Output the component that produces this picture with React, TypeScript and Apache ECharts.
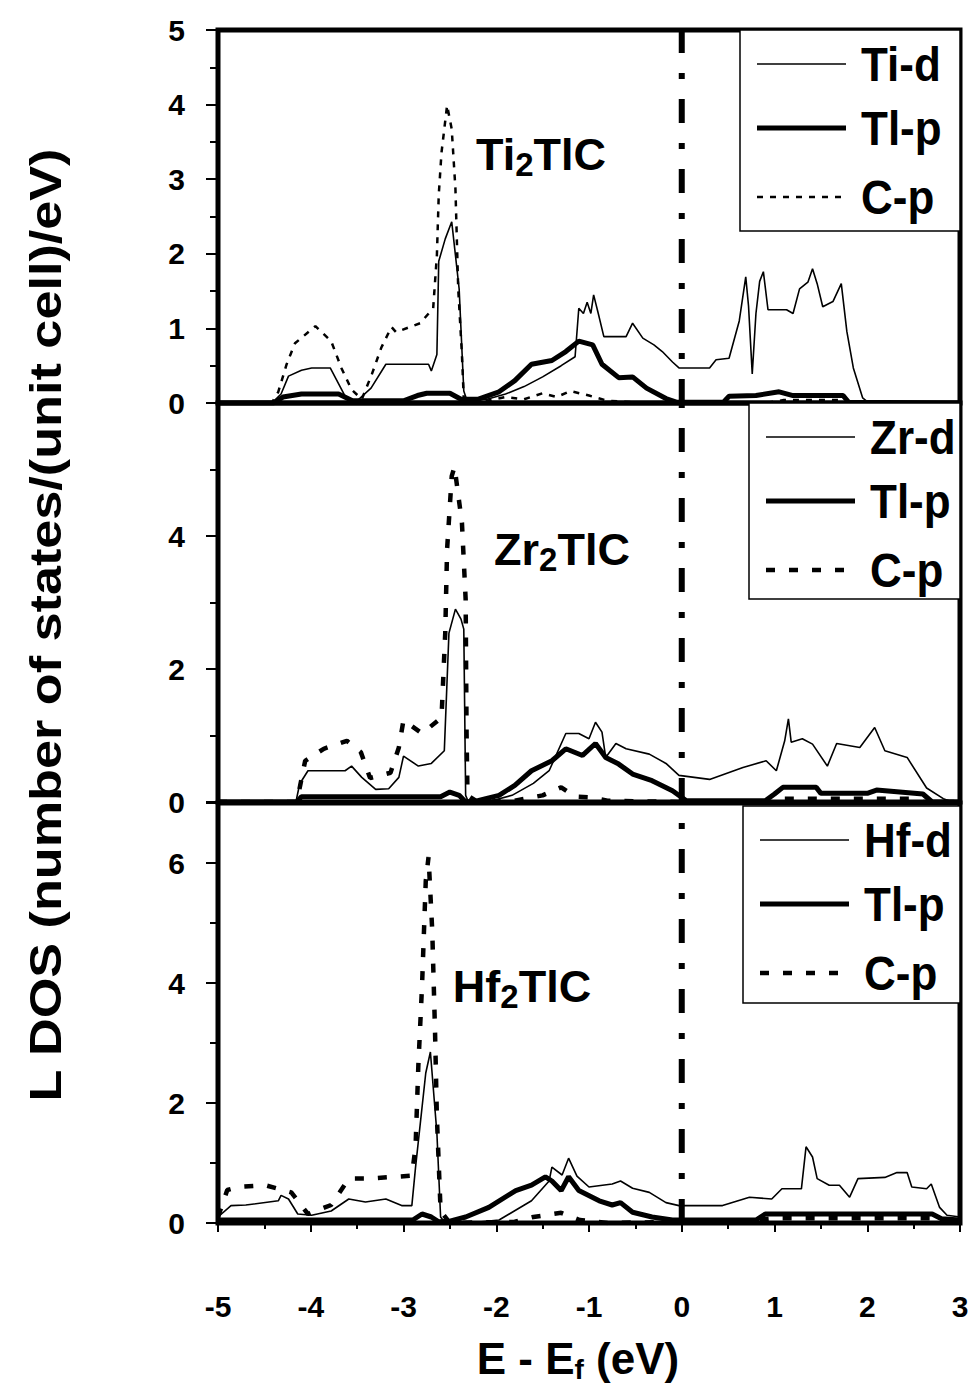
import React, { useEffect, useRef } from "react";
import * as echarts from "echarts";

// Energy window (eV) and the Fermi level marker
const E_MIN = -5;
const E_MAX = 3;
const FERMI = 0;

// Ti2TlC partial DOS: [E - Ef, states/eV]
const ti2_d: [number, number][] = [
  [-5, 0], [-4.42, 0], [-4.32, 0.12], [-4.24, 0.36], [-4.1, 0.44], [-3.99, 0.47], [-3.79, 0.47],
  [-3.62, 0.07], [-3.5, 0.03], [-3.35, 0.2], [-3.19, 0.52], [-2.73, 0.52], [-2.7, 0.43], [-2.64, 0.65],
  [-2.62, 1.9], [-2.55, 2.2], [-2.48, 2.43], [-2.4, 1.53], [-2.35, 0.16], [-2.32, 0.05], [-2.1, 0.05],
  [-1.9, 0.12], [-1.7, 0.22], [-1.5, 0.35], [-1.3, 0.5], [-1.15, 0.62], [-1.11, 1.27], [-1.06, 1.2],
  [-1.02, 1.35], [-0.98, 1.2], [-0.95, 1.45], [-0.9, 1.2], [-0.84, 0.89], [-0.6, 0.89], [-0.53, 1.07],
  [-0.42, 0.87], [-0.3, 0.78], [-0.21, 0.69], [-0.1, 0.55], [-0.03, 0.47], [0.3, 0.47], [0.37, 0.58],
  [0.51, 0.6], [0.62, 1.1], [0.69, 1.69], [0.72, 1.3], [0.76, 0.39], [0.8, 1.2], [0.84, 1.63],
  [0.88, 1.76], [0.93, 1.25], [1.13, 1.25], [1.2, 1.2], [1.27, 1.53], [1.36, 1.62], [1.41, 1.8],
  [1.46, 1.6], [1.52, 1.29], [1.63, 1.36], [1.72, 1.6], [1.78, 0.96], [1.85, 0.47], [1.95, 0.07],
  [2.02, 0], [3, 0],
];
const ti2_tlp: [number, number][] = [
  [-5, 0], [-4.4, 0], [-4.3, 0.08], [-4.1, 0.12], [-3.7, 0.12], [-3.55, 0.03], [-3.0, 0.03],
  [-2.85, 0.1], [-2.75, 0.13], [-2.5, 0.13], [-2.38, 0.05], [-2.2, 0.05], [-1.97, 0.15], [-1.8, 0.3],
  [-1.62, 0.52], [-1.4, 0.57], [-1.25, 0.69], [-1.11, 0.83], [-1.02, 0.8], [-0.96, 0.78], [-0.86, 0.52],
  [-0.68, 0.34], [-0.53, 0.35], [-0.38, 0.2], [-0.17, 0.06], [-0.05, 0.01], [0.45, 0.01], [0.51, 0.09],
  [0.8, 0.1], [1.05, 0.15], [1.2, 0.1], [1.74, 0.1], [1.8, 0.01], [3, 0],
];
const ti2_cp: [number, number][] = [
  [-5, 0], [-4.42, 0], [-4.35, 0.15], [-4.26, 0.52], [-4.17, 0.8], [-3.95, 1.03], [-3.78, 0.83],
  [-3.67, 0.47], [-3.56, 0.18], [-3.45, 0.05], [-3.34, 0.39], [-3.24, 0.74], [-3.13, 1.02],
  [-3.08, 0.95], [-2.82, 1.07], [-2.68, 1.27], [-2.64, 1.98], [-2.62, 2.79], [-2.59, 3.36],
  [-2.53, 3.99], [-2.48, 3.67], [-2.44, 2.87], [-2.41, 1.53], [-2.37, 0.65], [-2.35, 0.05],
  [-2.1, 0.03], [-1.9, 0.08], [-1.7, 0.05], [-1.5, 0.13], [-1.35, 0.08], [-1.2, 0.16], [-1.0, 0.1],
  [-0.8, 0.03], [-0.5, 0.01], [0, 0], [0.9, 0], [1.1, 0.04], [1.7, 0.04], [1.8, 0], [3, 0],
];

// Zr2TlC partial DOS
const zr2_d: [number, number][] = [
  [-5, 0], [-4.16, 0], [-4.12, 0.27], [-4.03, 0.47], [-3.63, 0.47], [-3.56, 0.54], [-3.45, 0.37],
  [-3.3, 0.19], [-3.16, 0.2], [-3.05, 0.37], [-3.0, 0.69], [-2.84, 0.54], [-2.7, 0.58], [-2.56, 0.77],
  [-2.51, 2.54], [-2.44, 2.9], [-2.38, 2.75], [-2.35, 2.6], [-2.33, 0.1], [-2.3, 0], [-2.1, 0],
  [-1.83, 0.1], [-1.6, 0.28], [-1.43, 0.47], [-1.25, 1.03], [-1.11, 1.03], [-1.0, 0.95], [-0.93, 1.2],
  [-0.86, 1.05], [-0.82, 0.67], [-0.71, 0.88], [-0.6, 0.8], [-0.35, 0.72], [-0.17, 0.58], [-0.03, 0.4],
  [0.3, 0.34], [0.66, 0.52], [0.91, 0.62], [1.02, 0.47], [1.11, 0.92], [1.15, 1.25], [1.18, 0.9],
  [1.3, 0.95], [1.41, 0.87], [1.57, 0.54], [1.67, 0.88], [1.92, 0.82], [2.08, 1.12], [2.19, 0.77],
  [2.43, 0.67], [2.64, 0.21], [2.82, 0.05], [2.92, 0], [3, 0],
];
const zr2_tlp: [number, number][] = [
  [-5, 0], [-4.15, 0], [-4.1, 0.08], [-2.6, 0.08], [-2.5, 0.15], [-2.4, 0.1], [-2.33, 0],
  [-2.2, 0.02], [-1.97, 0.1], [-1.8, 0.25], [-1.62, 0.47], [-1.4, 0.62], [-1.25, 0.8], [-1.07, 0.7],
  [-0.93, 0.88], [-0.82, 0.67], [-0.68, 0.57], [-0.53, 0.42], [-0.32, 0.32], [-0.1, 0.17],
  [0.05, 0.02], [0.9, 0.02], [1.0, 0.12], [1.09, 0.22], [1.45, 0.22], [1.5, 0.13], [2.0, 0.13],
  [2.1, 0.18], [2.6, 0.12], [2.7, 0], [3, 0],
];
const zr2_cp: [number, number][] = [
  [-5, 0], [-4.15, 0], [-4.06, 0.62], [-3.86, 0.8], [-3.61, 0.92], [-3.46, 0.75], [-3.36, 0.36],
  [-3.14, 0.44], [-3.05, 0.82], [-3.0, 1.23], [-2.8, 1.03], [-2.59, 1.27], [-2.55, 2.54],
  [-2.53, 3.8], [-2.48, 4.9], [-2.45, 5.04], [-2.37, 4.2], [-2.33, 3.05], [-2.32, 1.03],
  [-2.31, 0.1], [-2.2, 0], [-1.8, 0.02], [-1.5, 0.1], [-1.3, 0.22], [-1.15, 0.08], [-1.0, 0.07],
  [-0.8, 0.02], [0, 0], [1.0, 0], [1.1, 0.05], [2.5, 0.05], [2.6, 0], [3, 0],
];

// Hf2TlC partial DOS
const hf2_d: [number, number][] = [
  [-5, 0.1], [-4.86, 0.29], [-4.7, 0.3], [-4.35, 0.37], [-4.32, 0.46], [-4.24, 0.4], [-4.14, 0.15],
  [-3.99, 0.13], [-3.78, 0.2], [-3.59, 0.4], [-3.41, 0.35], [-3.19, 0.4], [-3.02, 0.29],
  [-2.91, 0.29], [-2.87, 0.93], [-2.76, 2.5], [-2.71, 2.85], [-2.64, 1.5], [-2.6, 0.1], [-2.55, 0],
  [-2.3, 0], [-1.97, 0.05], [-1.62, 0.37], [-1.43, 0.7], [-1.4, 0.93], [-1.29, 0.8], [-1.22, 1.08],
  [-1.13, 0.78], [-1.0, 0.6], [-0.75, 0.65], [-0.66, 0.7], [-0.53, 0.58], [-0.35, 0.51],
  [-0.17, 0.34], [-0.03, 0.29], [0.44, 0.29], [0.73, 0.43], [0.97, 0.4], [1.08, 0.57], [1.29, 0.57],
  [1.34, 1.27], [1.41, 1.1], [1.46, 0.74], [1.59, 0.63], [1.7, 0.63], [1.81, 0.43], [1.9, 0.74],
  [2.19, 0.76], [2.32, 0.84], [2.43, 0.84], [2.48, 0.6], [2.64, 0.57], [2.69, 0.65], [2.78, 0.26],
  [2.86, 0.13], [3, 0.1],
];
const hf2_tlp: [number, number][] = [
  [-5, 0.05], [-2.9, 0.05], [-2.8, 0.15], [-2.7, 0.1], [-2.62, 0.02], [-2.5, 0.03], [-2.33, 0.1],
  [-2.08, 0.26], [-1.79, 0.54], [-1.62, 0.63], [-1.47, 0.77], [-1.4, 0.7], [-1.3, 0.54],
  [-1.22, 0.77], [-1.11, 0.54], [-0.89, 0.37], [-0.75, 0.3], [-0.66, 0.34], [-0.53, 0.18],
  [-0.32, 0.1], [-0.1, 0.05], [0.8, 0.05], [0.9, 0.15], [2.7, 0.15], [2.8, 0.07], [3, 0.05],
];
const hf2_cp: [number, number][] = [
  [-5, 0.1], [-4.9, 0.55], [-4.78, 0.6], [-4.49, 0.63], [-4.21, 0.51], [-4.03, 0.15], [-3.78, 0.3],
  [-3.59, 0.74], [-3.38, 0.74], [-3.09, 0.77], [-2.91, 0.79], [-2.87, 1.27], [-2.84, 2.62],
  [-2.8, 3.96], [-2.76, 5.7], [-2.73, 6.1], [-2.69, 4.87], [-2.66, 3.19], [-2.64, 1.77], [-2.6, 0.2],
  [-2.5, 0], [-1.8, 0.02], [-1.6, 0.1], [-1.3, 0.17], [-1.1, 0.05], [-0.8, 0], [0, 0.02],
  [0.6, 0.03], [1, 0.08], [2.7, 0.08], [2.8, 0.03], [3, 0],
];

// Per-panel labels and y ranges
const compounds = ["Ti", "Zr", "Hf"];
const dLabels = ["Ti-d", "Zr-d", "Hf-d"];
const yMaxes = [5, 6, 7];
const yIntervals = [1, 2, 2];

const FONT = "Liberation Sans, Arial, sans-serif";

const grids = [
  { left: 218, top: 30, width: 742, height: 373 },
  { left: 218, top: 403, width: 742, height: 399 },
  { left: 218, top: 803, width: 742, height: 420 },
];

// legend boxes: [x, y, w, h]
const legendBoxes = [
  [740, 30, 220, 201],
  [749, 403, 211, 196],
  [743, 806, 217, 197],
];

// compound annotation positions (text centre)
const tagPos = [
  [541, 154],
  [562, 549],
  [522, 986],
];

export default function App() {
  const ref = useRef<HTMLDivElement>(null);

  useEffect(() => {
    if (!ref.current) return;
    const chart = echarts.init(ref.current, undefined, { renderer: "svg" });

    const panelData = [
      [ti2_d, ti2_tlp, ti2_cp],
      [zr2_d, zr2_tlp, zr2_cp],
      [hf2_d, hf2_tlp, hf2_cp],
    ];
    const cpStyles = [
      { width: 2.5, type: [6, 7] as number[] },
      { width: 4.5, type: [9, 14] as number[] },
      { width: 4.5, type: [9, 14] as number[] },
    ];

    const series: any[] = [];
    panelData.forEach((sets, i) => {
      // Fermi level, dash-dot vertical line spanning the panel
      series.push({
        type: "line",
        name: "Ef",
        xAxisIndex: i,
        yAxisIndex: i,
        data: [
          [FERMI, 0],
          [FERMI, yMaxes[i]],
        ],
        symbol: "none",
        silent: true,
        lineStyle: { color: "#000", width: 6, type: [24, 20, 6, 20] },
        z: 1,
      });
      series.push({
        type: "line",
        name: "C-p",
        xAxisIndex: i,
        yAxisIndex: i,
        data: sets[2],
        symbol: "none",
        lineStyle: { color: "#000", width: cpStyles[i].width, type: cpStyles[i].type },
        z: 2,
      });
      series.push({
        type: "line",
        name: "Tl-p",
        xAxisIndex: i,
        yAxisIndex: i,
        data: sets[1],
        symbol: "none",
        lineStyle: { color: "#000", width: 5 },
        z: 3,
      });
      series.push({
        type: "line",
        name: dLabels[i],
        xAxisIndex: i,
        yAxisIndex: i,
        data: sets[0],
        symbol: "none",
        lineStyle: { color: "#000", width: 1.6 },
        z: 4,
      });
    });

    const xAxes = grids.map((_, i) => ({
      type: "value",
      gridIndex: i,
      min: E_MIN,
      max: E_MAX,
      interval: 1,
      axisLine: { show: true, onZero: false, lineStyle: { color: "#000", width: 4 } },
      axisTick: { show: i === 2, length: 9, lineStyle: { color: "#000", width: 2 } },
      minorTick: { show: i === 2, splitNumber: 2, length: 6, lineStyle: { color: "#000", width: 2 } },
      splitLine: { show: false },
      axisLabel: {
        show: i === 2,
        margin: 68,
        color: "#000",
        fontFamily: FONT,
        fontWeight: "bold",
        fontSize: 30,
      },
    }));

    const yAxes = grids.map((_, i) => ({
      type: "value",
      gridIndex: i,
      min: 0,
      max: yMaxes[i],
      interval: yIntervals[i],
      axisLine: { show: true, onZero: false, lineStyle: { color: "#000", width: 4 } },
      axisTick: { show: true, length: 12, lineStyle: { color: "#000", width: 2 } },
      minorTick: {
        show: true,
        splitNumber: 2,
        length: 8,
        lineStyle: { color: "#000", width: 2 },
      },
      splitLine: { show: false },
      axisLabel: {
        margin: 33,
        color: "#000",
        fontFamily: FONT,
        fontWeight: "bold",
        fontSize: 30,
        showMaxLabel: i === 0,
      },
    }));

    const graphics: any[] = [];

    // legend boxes
    legendBoxes.forEach((b, i) => {
      const [x, y, w, h] = b;
      graphics.push({
        type: "rect",
        shape: { x, y, width: w, height: h },
        style: { fill: "#fff", stroke: "#000", lineWidth: 1.5 },
        z: 50,
      });
      const rows = [y + 34, y + 98, y + 167];
      const lx1 = x + 17;
      const lx2 = x + 106;
      const tx = x + 121;
      const labels = [dLabels[i], "Tl-p", "C-p"];
      const strokes = [
        { lineWidth: 1.5, lineDash: null as any },
        { lineWidth: 5, lineDash: null as any },
        { lineWidth: cpStyles[i].width, lineDash: cpStyles[i].type },
      ];
      rows.forEach((ry, k) => {
        graphics.push({
          type: "line",
          shape: { x1: lx1, y1: ry, x2: lx2, y2: ry },
          style: { stroke: "#000", lineWidth: strokes[k].lineWidth, lineDash: strokes[k].lineDash },
          z: 51,
        });
        graphics.push({
          type: "text",
          x: tx,
          y: ry,
          scaleY: 1.1,
          style: {
            text: labels[k],
            fill: "#000",
            font: `bold 44px ${FONT}`,
            textAlign: "left",
            textVerticalAlign: "middle",
          },
          z: 51,
        });
      });
    });

    // compound annotations with subscript
    compounds.forEach((el, i) => {
      graphics.push({
        type: "text",
        x: tagPos[i][0],
        y: tagPos[i][1],
        style: {
          text: `{n|${el}}{s|2}{n|TlC}`,
          textAlign: "center",
          textVerticalAlign: "middle",
          rich: {
            n: { fontFamily: FONT, fontWeight: "bold", fontSize: 45, lineHeight: 54, fill: "#000", color: "#000" },
            s: {
              fontFamily: FONT,
              fontWeight: "bold",
              fontSize: 33,
              lineHeight: 22,
              verticalAlign: "bottom",
              fill: "#000",
              color: "#000",
            },
          },
        },
        z: 40,
      });
    });

    // y-axis title
    graphics.push({
      type: "text",
      x: 45,
      y: 625,
      rotation: Math.PI / 2,
      scaleX: 1.16,
      style: {
        text: "L DOS (number of states/(unit cell)/eV)",
        fill: "#000",
        font: `bold 45px ${FONT}`,
        textAlign: "center",
        textVerticalAlign: "middle",
      },
    });

    // x-axis title
    graphics.push({
      type: "text",
      x: 578,
      y: 1358,
      style: {
        text: "{n|E - E}{s|f}{n| (eV)}",
        textAlign: "center",
        textVerticalAlign: "middle",
        rich: {
          n: { fontFamily: FONT, fontWeight: "bold", fontSize: 44, lineHeight: 50, fill: "#000", color: "#000" },
          s: {
            fontFamily: FONT,
            fontWeight: "bold",
            fontSize: 28,
            lineHeight: 20,
            verticalAlign: "bottom",
            fill: "#000",
            color: "#000",
          },
        },
      },
    });

    chart.setOption({
      animation: false,
      backgroundColor: "#fff",
      grid: grids.map((g) => ({ ...g, show: true, borderColor: "#000", borderWidth: 5, backgroundColor: "transparent" })),
      xAxis: xAxes,
      yAxis: yAxes,
      series,
      graphic: graphics,
    });

    return () => chart.dispose();
  }, []);

  return (
    <div
      ref={ref}
      style={{ position: "absolute", left: 0, top: 0, width: 973, height: 1385, background: "#fff" }}
    />
  );
}
